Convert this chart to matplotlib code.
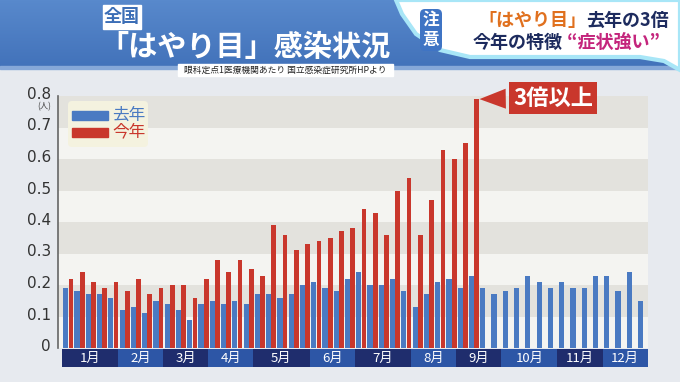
import numpy as np
import matplotlib
matplotlib.use("Agg")
import matplotlib.pyplot as plt
import matplotlib.transforms as mtransforms
from matplotlib.patches import Rectangle, Polygon, FancyBboxPatch

plt.rcParams['font.family'] = ['Noto Sans CJK JP', 'DejaVu Sans']

# weekly cases per clinic
months = ['1月', '2月', '3月', '4月', '5月', '6月', '7月', '8月', '9月', '10月', '11月', '12月']
weeks_in_month = [5, 4, 4, 4, 5, 4, 5, 4, 4, 5, 4, 4]
last_year = [0.19, 0.18, 0.17, 0.17, 0.16,
             0.12, 0.13, 0.11, 0.15,
             0.14, 0.12, 0.09, 0.14,
             0.15, 0.14, 0.15, 0.14,
             0.17, 0.17, 0.16, 0.17, 0.20,
             0.21, 0.19, 0.18, 0.22,
             0.24, 0.20, 0.20, 0.22, 0.18,
             0.13, 0.17, 0.21, 0.22,
             0.19, 0.23, 0.19, 0.17,
             0.18, 0.19, 0.23, 0.21, 0.19,
             0.21, 0.19, 0.19, 0.23,
             0.23, 0.18, 0.24, 0.15]
this_year = [0.22, 0.24, 0.21, 0.19, 0.21,
             0.18, 0.22, 0.17, 0.19,
             0.20, 0.20, 0.16, 0.22,
             0.28, 0.24, 0.28, 0.25,
             0.23, 0.39, 0.36, 0.31, 0.33,
             0.34, 0.35, 0.37, 0.38,
             0.44, 0.43, 0.36, 0.50, 0.54,
             0.36, 0.47, 0.63, 0.60,
             0.65, 0.79]
yticks = [0, 0.1, 0.2, 0.3, 0.4, 0.5, 0.6, 0.7, 0.8]

BLUE = '#4a7ac2'
RED = '#c9372c'

W, H = 680, 382
fig = plt.figure(figsize=(W / 100, H / 100), dpi=100)


def pixel_axes(z):
    a = fig.add_axes([0, 0, 1, 1], zorder=z)
    a.set_facecolor('none')
    a.axis('off')
    a.set_xlim(0, W)
    a.set_ylim(H, 0)
    return a


# background layer in pixel coordinates
bg = pixel_axes(0)
bg.add_patch(Rectangle((0, 0), W, H, color='#e7eaef', zorder=0))
grad = np.linspace(0, 1, 64).reshape(-1, 1)
bg.imshow(grad, extent=(0, W, 68, 0), aspect='auto', zorder=0.5,
          cmap=matplotlib.colors.LinearSegmentedColormap.from_list('b', ['#5889cc', '#4272ba']))
bg.add_patch(Rectangle((0, 66), W, 3, color='#86a8d8', zorder=1))

# white swoosh top right
sw = Polygon([(396, 0), (402, 14), (416, 34), (440, 50), (470, 57), (640, 57),
              (664, 61), (680, 70), (680, 0)], closed=True,
             facecolor='white', edgecolor='#a8e6f7', lw=3, zorder=1)
bg.add_patch(sw)
bg.add_patch(FancyBboxPatch((420, 9), 22, 42, boxstyle='round,pad=0,rounding_size=5',
                            facecolor='#3f74c4', edgecolor='none', zorder=2))
bg.text(431, 20, '注', color='white', fontsize=12, fontweight='bold', ha='center', va='center')
bg.text(431, 40, '意', color='white', fontsize=12, fontweight='bold', ha='center', va='center')
bg.set_xlim(0, W)
bg.set_ylim(H, 0)

renderer = fig.canvas.get_renderer()


def text_parts(x, y, parts, size):
    # draw pieces of one line next to each other, each with its own colour
    for s, c in parts:
        t = bg.text(x, y, s, color=c, fontsize=size, fontweight='bold', ha='left', va='center')
        x += t.get_window_extent(renderer=renderer).width


text_parts(478, 20, [('「はやり目」', '#e0701e'), ('去年の3倍', '#1d2b5e')], 13)
text_parts(473, 42, [('今年の特徴', '#1d2b5e'), (' “症状強い”', '#c4257c')], 13)

# title block
bg.add_patch(Rectangle((103, 5), 38, 24, color='white', zorder=2))
bg.text(122, 17, '全国', color='#3c6eb6', fontsize=13, fontweight='bold', ha='center', va='center')
bg.text(245, 47, '「はやり目」感染状況', color='white', fontsize=21, fontweight='bold',
        ha='center', va='center')
bg.add_patch(Rectangle((178, 64), 215, 12, color='white', zorder=2))
bg.text(285.5, 70, '眼科定点1医療機関あたり 国立感染症研究所HPより', color='#222222',
        fontsize=6.3, ha='center', va='center')

# main chart
ax = fig.add_axes([58 / W, (H - 348) / H, 590 / W, 252 / H], zorder=2)
ax.set_facecolor('none')
x = np.arange(1, len(last_year) + 1)
xr = np.arange(1, len(this_year) + 1)
for i in range(8):
    ax.axhspan(yticks[i], yticks[i + 1], color='#f4f4f1' if i % 2 == 0 else '#e3e2dd', lw=0, zorder=0)
ax.bar(x, last_year, width=0.46, color=BLUE, zorder=2)
ax.bar(xr + 0.46, this_year, width=0.42, color=RED, zorder=2)
ax.set_xlim(0.31, 52.66)
ax.set_ylim(0, 0.8)
ax.set_xticks([])
ax.set_yticks(yticks)
ax.set_yticklabels(['0' if v == 0 else f'{v:.1f}' for v in yticks], fontsize=11, color='#333333',
                   family='DejaVu Sans')
ax.tick_params(axis='y', length=0, pad=5)
lift = mtransforms.ScaledTranslation(0, 3 / 100, fig.dpi_scale_trans)
for lab in ax.get_yticklabels():
    lab.set_transform(lab.get_transform() + lift)
for s in ['top', 'right', 'bottom']:
    ax.spines[s].set_visible(False)
ax.spines['left'].set_color('#666666')
ax.spines['left'].set_linewidth(1.2)

# overlay layer for legend, unit and callout
fg = pixel_axes(5)
fg.text(44, 107, '(人)', color='#444444', fontsize=6, ha='center', va='center')
fg.add_patch(FancyBboxPatch((68, 101), 80, 46, boxstyle='round,pad=0,rounding_size=4',
                            facecolor='#f4f2df', edgecolor='none'))
fg.add_patch(Rectangle((72, 111), 36, 9, color=BLUE))
fg.add_patch(Rectangle((72, 128), 36, 9, color=RED))
fg.text(112, 115, '去年', color=BLUE, fontsize=12, ha='left', va='center')
fg.text(112, 132, '今年', color=RED, fontsize=12, ha='left', va='center')

peak_x = xr[-1] + 0.46
fg.annotate('3倍以上', xy=(peak_x, this_year[-1]), xycoords=ax.transData,
            xytext=(553, 98), textcoords=fg.transData,
            ha='center', va='center', color='white', fontsize=16, fontweight='bold',
            bbox=dict(boxstyle='square,pad=0.2', facecolor=RED, edgecolor='none'),
            arrowprops=dict(arrowstyle='wedge,tail_width=0.9,shrink_factor=0.5', color=RED, lw=0),
            annotation_clip=False)

# month band
mx = fig.add_axes([58 / W, (H - 367) / H, 590 / W, 18 / H], zorder=2)
mx.set_xlim(0.31, 52.66)
mx.set_ylim(0, 1)
mx.axis('off')
start = 1
for k, (m, n) in enumerate(zip(months, weeks_in_month)):
    left = max(start - 0.37, 0.31)
    right = min(start + n - 0.37, 52.66)
    mx.add_patch(Rectangle((left, 0), right - left, 1,
                           color='#1f2d6d' if k % 2 == 0 else '#2d56a6', lw=0))
    mx.text((left + right) / 2, 0.5, m, color='white', fontsize=9.5, ha='center', va='center')
    start += n

fig.savefig('out.png', dpi=100)
